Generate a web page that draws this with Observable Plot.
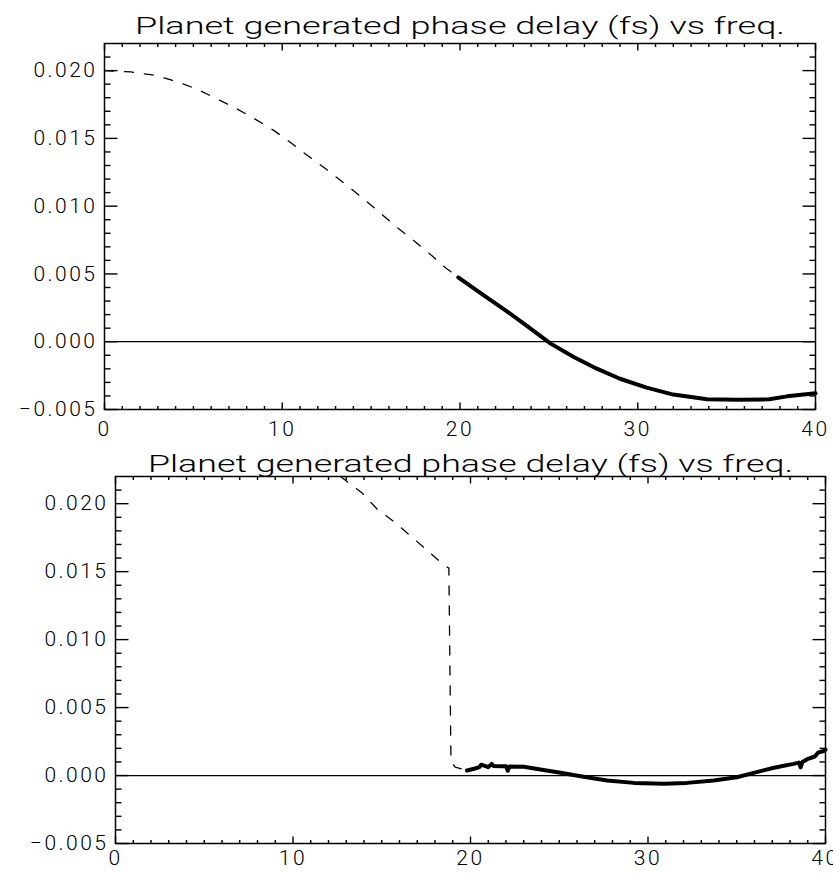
<!DOCTYPE html>
<html><head><meta charset="utf-8">
<script src="https://cdn.jsdelivr.net/npm/d3@7"></script>
<script src="https://cdn.jsdelivr.net/npm/@observablehq/plot@0.6"></script>
<style>
html,body{margin:0;padding:0;background:#fff;overflow:hidden;width:833px;height:875px;}
#wrap{position:relative;width:833px;height:875px;overflow:hidden;}
.panel{position:absolute;left:0;}
</style></head><body><div id="wrap"></div><script>
// ---- data ----
const titleText = "Planet generated phase delay (fs) vs freq.";
const xTicks = [0, 10, 20, 30, 40];
const yTicks = [-0.005, 0.000, 0.005, 0.010, 0.015, 0.020];
const xMinorTicks = [1,2,3,4,5,6,7,8,9,11,12,13,14,15,16,17,18,19,21,22,23,24,25,26,27,28,29,31,32,33,34,35,36,37,38,39];
const yMinorTicks = [-0.004,-0.003,-0.002,-0.001,0.001,0.002,0.003,0.004,0.006,0.007,0.008,0.009,0.011,0.012,0.013,0.014,0.016,0.017,0.018,0.019,0.021];

// top panel: dashed part (below 20) and thick part (20-40)
const topDashX = [0, 1.5, 2.7, 3.9, 5.1, 6.2, 7.3, 8.4, 9.5, 10.5, 11.5, 12.5, 13.5, 14.5, 15.4, 16.3, 17.3, 18.3, 19.2, 19.9];
const topDashY = [0.0200, 0.0199, 0.01968, 0.01926, 0.01869, 0.0180, 0.01729, 0.01648, 0.01561, 0.01466, 0.01366, 0.01270, 0.01168, 0.01062, 0.00963, 0.0086, 0.00756, 0.00648, 0.00544, 0.00475];
const topSolidX = [19.9, 21.2, 22.7, 23.8, 25.1, 26.4, 27.7, 29.0, 30.5, 32.0, 33.9, 35.6, 37.4, 38.4, 40];
const topSolidY = [0.00475, 0.00355, 0.00219, 0.00114, -0.00014, -0.00113, -0.00199, -0.00273, -0.00339, -0.0039, -0.00425, -0.00428, -0.00425, -0.00403, -0.0038];

// bottom panel
const botDashX = [12.68, 13.9, 14.74, 15.68, 16.66, 17.56, 18.5, 18.78, 18.9, 19.15, 19.8];
const botDashY = [0.0220, 0.02078, 0.0196, 0.01869, 0.01759, 0.01656, 0.0155, 0.01526, 0.00098, 0.00061, 0.00037];
const botSolidX = [19.8, 20.2, 20.5, 20.6, 21.0, 21.2, 21.3, 21.7, 22.0, 22.1, 22.2, 23.0, 23.94, 25.07, 26.2, 27.7, 29.2, 30.9, 32.2, 33.7, 35.0, 35.96, 37.1, 38.2, 38.5, 38.6, 38.7, 38.97, 39.4, 39.6, 39.87, 40];
const botSolidY = [0.00037, 0.0005, 0.00062, 0.0008, 0.00062, 0.00085, 0.0007, 0.00068, 0.00068, 0.00035, 0.00066, 0.00064, 0.00044, 0.0002, -0.00005, -0.00037, -0.00054, -0.00061, -0.00054, -0.00037, -0.00013, 0.0002, 0.00057, 0.00086, 0.00095, 0.0006, 0.001, 0.0012, 0.0014, 0.0017, 0.00179, 0.0019];

const xDomain = [0, 40];
const yDomain = [-0.005, 0.022];

function zip(xs, ys) { return xs.map((x, i) => ({x, y: ys[i]})); }
const fmtY = d => d3.format(".3f")(d).replace("-", "\u2212");

function panel(o) {
  const W = 833, H = o.height;
  const iw = W - o.ml - o.mr, ih = H - o.mt - o.mb;
  const xs = (xDomain[1] - xDomain[0]) / iw, ys = (yDomain[1] - yDomain[0]) / ih;
  const [y0, y1] = yDomain, [x0, x1] = xDomain;
  const common = {
    width: W, height: H,
    marginLeft: o.ml, marginRight: o.mr, marginTop: o.mt, marginBottom: o.mb,
    x: {domain: xDomain, axis: null},
    y: {domain: yDomain, axis: null}
  };
  const svg = Plot.plot({
    ...common,
    style: "font-family: Roboto, 'DejaVu Sans', sans-serif; font-weight:300; font-size:21px; letter-spacing:2.5px; background:#fff;",
    marks: [
      Plot.ruleY([0], {stroke: "#000", strokeWidth: 1.2}),
      Plot.line(zip(o.dashX, o.dashY), {x: "x", y: "y", stroke: "#000", strokeWidth: 1.3, strokeDasharray: "9,11"}),
      Plot.line(zip(o.solidX, o.solidY), {x: "x", y: "y", stroke: "#000", strokeWidth: 4}),
      Plot.frame({stroke: "#000", strokeWidth: 1.5}),
      Plot.axisX(xTicks, {anchor: "bottom", tickSize: 0, tickPadding: o.xPad, tickFormat: d => String(d), label: null}),
      Plot.axisY(yTicks, {anchor: "left", tickSize: 0, tickPadding: 7, tickFormat: fmtY, label: null}),
      Plot.text([titleText], {frameAnchor: "top", lineAnchor: "bottom", dy: o.titleDy, fontSize: 23.5, text: d => d})
    ]
  });
  svg.classList.add("panel");
  svg.style.top = o.top + "px";
  d3.select(svg).selectAll("g[aria-label='text'] text")
    .attr("textLength", o.titleW).attr("lengthAdjust", "spacingAndGlyphs").style("letter-spacing", "0px");

  // inward ticks on all four sides, drawn in a transparent overlay with the same scales
  const segs = [];
  for (const t of xTicks) { const L = 7 * ys; segs.push({a: t, b: y0, c: t, d: y0 + L}, {a: t, b: y1 - L, c: t, d: y1}); }
  for (const t of xMinorTicks) { const L = 3.5 * ys; segs.push({a: t, b: y0, c: t, d: y0 + L}, {a: t, b: y1 - L, c: t, d: y1}); }
  for (const t of yTicks) { const L = 13 * xs; segs.push({a: x0, b: t, c: x0 + L, d: t}, {a: x1 - L, b: t, c: x1, d: t}); }
  for (const t of yMinorTicks) { const L = 6 * xs; segs.push({a: x0, b: t, c: x0 + L, d: t}, {a: x1 - L, b: t, c: x1, d: t}); }
  const ov = Plot.plot({
    ...common,
    marks: [Plot.link(segs, {x1: "a", y1: "b", x2: "c", y2: "d", stroke: "#000", strokeWidth: 1.4})]
  });
  ov.classList.add("panel");
  ov.style.top = o.top + "px";
  ov.style.background = "transparent";
  ov.style.setProperty("--plot-background", "transparent");
  return [svg, ov];
}

const wrap = document.getElementById("wrap");
const p1 = panel({
  top: 0, height: 440, mt: 43, mb: 31, ml: 104, mr: 18, xPad: 12,
  dashX: topDashX, dashY: topDashY, solidX: topSolidX, solidY: topSolidY,
  titleDy: -10, titleW: 650
});
const p2 = panel({
  top: 440, height: 435, mt: 36, mb: 32, ml: 115, mr: 8, xPad: 7,
  dashX: botDashX, dashY: botDashY, solidX: botSolidX, solidY: botSolidY,
  titleDy: -5, titleW: 645
});
for (const el of [...p1, ...p2]) wrap.appendChild(el);
</script></body></html>
